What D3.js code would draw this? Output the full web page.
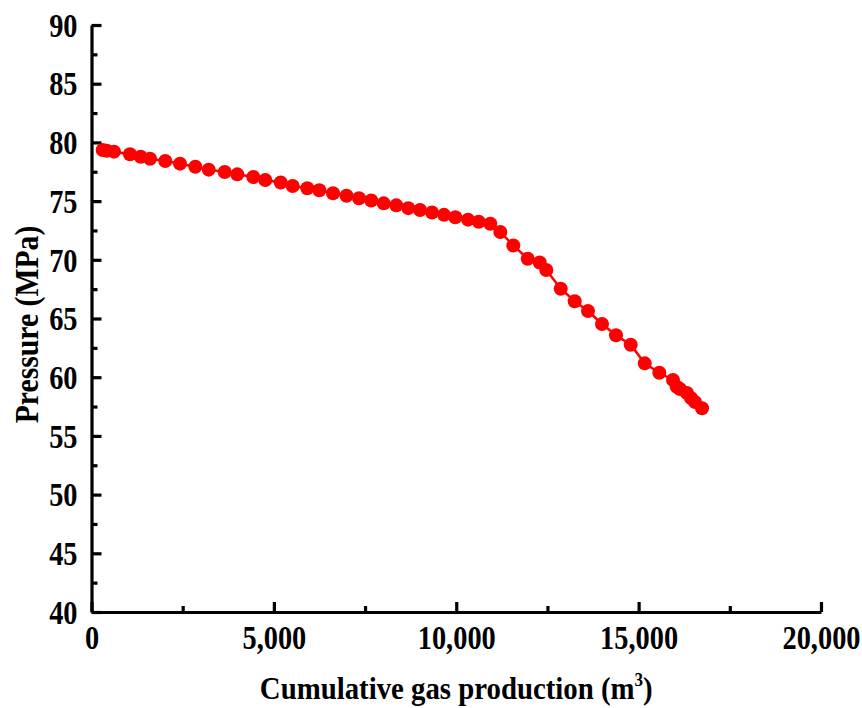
<!DOCTYPE html>
<html>
<head>
<meta charset="utf-8">
<script src="https://cdn.jsdelivr.net/npm/d3@7"></script>
<style>
  html, body { margin: 0; padding: 0; background: #fff; }
  svg { display: block; }
  text { font-family: "Liberation Serif", "Times New Roman", serif; font-weight: bold; fill: #000; }
</style>
</head>
<body>
<svg id="chart" width="862" height="708"></svg>
<script>
// Cumulative gas production (m^3)
const production = [307, 417, 617, 1055, 1349, 1604, 2023, 2426, 2846, 3213,
  3652, 3997, 4436, 4765, 5187, 5516, 5916, 6245, 6621, 6991,
  7334, 7668, 8011, 8356, 8685, 9006, 9335, 9664, 9974, 10322,
  10616, 10934, 11208, 11564, 11959, 12288, 12469, 12864, 13247, 13612,
  13996, 14380, 14783, 15167, 15567, 15943, 16044, 16134, 16326, 16436,
  16546, 16738];
// Pressure (MPa)
const pressure = [79.35, 79.29, 79.21, 78.99, 78.78, 78.61, 78.42, 78.19, 77.93, 77.68,
  77.48, 77.28, 77.05, 76.80, 76.58, 76.29, 76.09, 75.92, 75.67, 75.45,
  75.24, 75.05, 74.81, 74.64, 74.40, 74.24, 74.03, 73.83, 73.62, 73.42,
  73.24, 73.07, 72.37, 71.22, 70.09, 69.77, 69.13, 67.54, 66.47, 65.64,
  64.53, 63.57, 62.77, 61.18, 60.38, 59.76, 59.19, 59.00, 58.65, 58.23,
  57.89, 57.35];
const xTicks = [0, 5000, 10000, 15000, 20000];
const xMinorTicks = [2500, 7500, 12500, 17500];
const yTicks = [40, 45, 50, 55, 60, 65, 70, 75, 80, 85, 90];
const yMinorTicks = [42.5, 47.5, 52.5, 57.5, 62.5, 67.5, 72.5, 77.5, 82.5, 87.5];

const svg = d3.select("#chart");
const x = d3.scaleLinear().domain([0, 20000]).range([91.5, 821]);
const y = d3.scaleLinear().domain([40, 90]).range([612, 25]);

const fmt = d3.format(",");
const sx = 0.86; // condensed look of the reference glyphs

// X axis
const gx = svg.append("g").attr("transform", `translate(0,${y(40)})`);
gx.call(d3.axisBottom(x).tickValues(xTicks).tickSizeInner(-10).tickSizeOuter(0).tickFormat(fmt));
gx.append("g").call(d3.axisBottom(x).tickValues(xMinorTicks).tickSize(-6).tickFormat(""))
  .select(".domain").remove();
gx.selectAll("line").attr("stroke", "#000").attr("stroke-width", 3.2);
gx.selectAll(".domain").attr("stroke", "#000").attr("stroke-width", 3.2);
gx.selectAll(".tick text").attr("font-size", 33).attr("dy", 0).attr("y", 37)
  .attr("transform", `scale(${sx},1)`)
  .style("font-family", '"Liberation Serif", serif').style("font-weight", "bold");

// Y axis
const gy = svg.append("g").attr("transform", `translate(${x(0)},0)`);
gy.call(d3.axisLeft(y).tickValues(yTicks).tickSizeInner(-10).tickSizeOuter(0));
gy.append("g").call(d3.axisLeft(y).tickValues(yMinorTicks).tickSize(-6).tickFormat(""))
  .select(".domain").remove();
gy.selectAll("line").attr("stroke", "#000").attr("stroke-width", 3.2);
gy.selectAll(".domain").attr("stroke", "#000").attr("stroke-width", 3.2);
gy.selectAll(".tick text").attr("font-size", 33).attr("x", -14 / sx).attr("dy", "0.34em")
  .attr("transform", `scale(${sx},1)`)
  .style("font-family", '"Liberation Serif", serif').style("font-weight", "bold");

// Line + markers
const pts = production.map((p, i) => ({ x: p, y: pressure[i] }));
svg.append("path").datum(pts)
  .attr("fill", "none").attr("stroke", "#ff0000").attr("stroke-width", 2.5)
  .attr("d", d3.line().x(d => x(d.x)).y(d => y(d.y)));
svg.append("g").selectAll("circle").data(pts).join("circle")
  .attr("cx", d => x(d.x)).attr("cy", d => y(d.y)).attr("r", 7)
  .attr("fill", "#ff0000");

// Axis titles
const cx = (x(0) + x(20000)) / 2;
const xt = svg.append("text").attr("transform", `translate(${cx},699) scale(0.9,1)`)
  .attr("text-anchor", "middle").attr("font-size", 32);
xt.append("tspan").text("Cumulative gas production (m");
xt.append("tspan").text("3").attr("font-size", 19).attr("dy", -13);
xt.append("tspan").text(")").attr("dy", 13);

svg.append("text").attr("transform", `translate(38,${(y(40) + y(90)) / 2 + 6}) rotate(-90) scale(0.9,1)`)
  .attr("text-anchor", "middle").attr("font-size", 33).text("Pressure (MPa)");
</script>
</body>
</html>
